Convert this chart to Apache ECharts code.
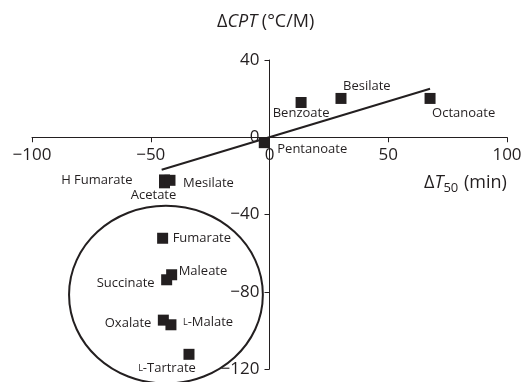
<!DOCTYPE html>
<html>
<head>
<meta charset="utf-8">
<script src="https://cdn.jsdelivr.net/npm/echarts@6/dist/echarts.min.js"></script>
<style>html,body{margin:0;padding:0;background:#fff}#c{width:529px;height:382px}</style>
</head>
<body>
<div id="c"></div>
<script>
// ---- data ----
var saltNames = ['Benzoate','Besilate','Octanoate','Pentanoate','H Fumarate','Acetate','Mesilate','Fumarate','Maleate','Succinate','Oxalate','L-Malate','L-Tartrate'];
var deltaT50  = [13.3, 30.1, 67.6, -2.2, -44.2, -44.2, -41.9, -45.0, -41.2, -43.3, -44.7, -41.5, -33.9];
var deltaCPT  = [18.0, 20.1, 20.1, -2.8, -22.1, -23.6, -22.3, -52.3, -71.2, -73.8, -94.7, -97.1, -112.4];
var trendX = [-45.4, 67.6];
var trendY = [-16.8, 25.1];
var xTicks = [-100, -50, 0, 50, 100];
var yTicks = [-120, -80, -40, 0, 40];
// grouping ellipse (data units): centre x, centre y, radius x, radius y
var groupEllipse = [-43.6, -81.5, 40.8, 46.0];

// ---- label placement (style) ----
var labelPlace = {
  'Benzoate':   ['center', [0, 11]],
  'Besilate':   ['left',   [2, -12]],
  'Octanoate':  ['left',   [2, 15]],
  'Pentanoate': ['left',   [13, 7]],
  'H Fumarate': ['right',  [-32, 0]],
  'Acetate':    ['center', [-11, 12]],
  'Mesilate':   ['left',   [13, 3]],
  'Fumarate':   ['left',   [10, 0]],
  'Maleate':    ['left',   [7, -3]],
  'Succinate':  ['right',  [-12, 4]],
  'Oxalate':    ['right',  [-12, 3]],
  'L-Malate':   ['left',   [12, -2]],
  'L-Tartrate': ['center', [-22, 14]]
};

var FONT = 'Open Sans';
var INK = '#231f20';
var GRID = { left: 32, right: 22, top: 60, bottom: 13 };
var W = 529, H = 382;

var points = saltNames.map(function (n, i) {
  var p = labelPlace[n];
  return {
    name: n,
    value: [deltaT50[i], deltaCPT[i]],
    label: { align: p[0], offset: p[1] }
  };
});

function fmtNum(v) { return v < 0 ? '\u2212' + Math.abs(v) : String(v); }
function fmtLabel(p) {
  var n = p.name;
  if (n.indexOf('L-') === 0) return '{sc|L}-' + n.slice(2);
  return n;
}

var chart = echarts.init(document.getElementById('c'), null, { renderer: 'canvas' });
chart.setOption({
  animation: false,
  backgroundColor: '#fff',
  grid: { left: GRID.left, right: GRID.right, top: GRID.top, bottom: GRID.bottom, containLabel: false, outerBoundsMode: 'none' },
  xAxis: {
    type: 'value', position: 'bottom', min: xTicks[0], max: xTicks[xTicks.length - 1], interval: 50,
    axisLine: { onZero: false, lineStyle: { color: INK, width: 1 } },
    axisTick: { show: true, length: 5, lineStyle: { color: INK } },
    axisLabel: { color: INK, fontFamily: FONT, fontSize: 17, margin: 9, formatter: fmtNum },
    splitLine: { show: false }
  },
  yAxis: {
    type: 'value', position: 'left', min: yTicks[0], max: yTicks[yTicks.length - 1], interval: 40,
    axisLine: { show: true, onZero: false, lineStyle: { color: INK, width: 1 } },
    axisTick: { show: true, length: 5, lineStyle: { color: INK } },
    axisLabel: { color: INK, fontFamily: FONT, fontSize: 17, margin: 10, formatter: fmtNum },
    splitLine: { show: false }
  },
  series: [
    {
      type: 'line', data: trendX.map(function (x, i) { return [x, trendY[i]]; }),
      showSymbol: false, symbol: 'none', lineStyle: { color: INK, width: 2 }, z: 3, silent: true
    },
    {
      type: 'scatter', data: points, symbol: 'rect', symbolSize: 11,
      itemStyle: { color: INK, opacity: 1 }, z: 4,
      label: {
        show: true, position: 'inside', color: INK, fontFamily: FONT, fontSize: 13,
        formatter: fmtLabel,
        rich: { sc: { fontSize: 9, color: INK, fontFamily: FONT } }
      }
    }
  ],
  graphic: [
    {
      type: 'text', left: 217, top: 13,
      style: {
        text: '{n|\u0394}{i|CPT}{n| (\u00b0C/M)}',
        rich: {
          n: { fontFamily: FONT, fontSize: 18, fill: INK },
          i: { fontFamily: FONT, fontSize: 18, fontStyle: 'italic', fill: INK }
        }
      }
    },
    {
      type: 'text', left: 424, top: 174,
      style: {
        text: '{n|\u0394}{i|T}{s|50}{n| (min)}',
        rich: {
          n: { fontFamily: FONT, fontSize: 18, fill: INK, verticalAlign: 'middle', lineHeight: 23 },
          i: { fontFamily: FONT, fontSize: 18, fontStyle: 'italic', fill: INK, verticalAlign: 'middle', lineHeight: 23 },
          s: { fontFamily: FONT, fontSize: 13, fill: INK, verticalAlign: 'bottom', lineHeight: 23, padding: [0, 1, 0, 0] }
        }
      }
    }
  ]
});

// move the axes so they cross at the origin (labels follow)
var origin = chart.convertToPixel({ gridIndex: 0 }, [0, 0]);
var c0 = chart.convertToPixel({ gridIndex: 0 }, [groupEllipse[0], groupEllipse[1]]);
var c1 = chart.convertToPixel({ gridIndex: 0 }, [groupEllipse[0] + groupEllipse[2], groupEllipse[1] + groupEllipse[3]]);
chart.setOption({
  xAxis: { offset: origin[1] - (H - GRID.bottom) },
  yAxis: { offset: GRID.left - origin[0] },
  graphic: [
    {
      type: 'ellipse', id: 'grp', z: 1, silent: true,
      shape: { cx: c0[0], cy: c0[1], rx: Math.abs(c1[0] - c0[0]), ry: Math.abs(c1[1] - c0[1]) },
      style: { fill: 'none', stroke: INK, lineWidth: 2 }
    }
  ]
});
</script>
</body>
</html>
